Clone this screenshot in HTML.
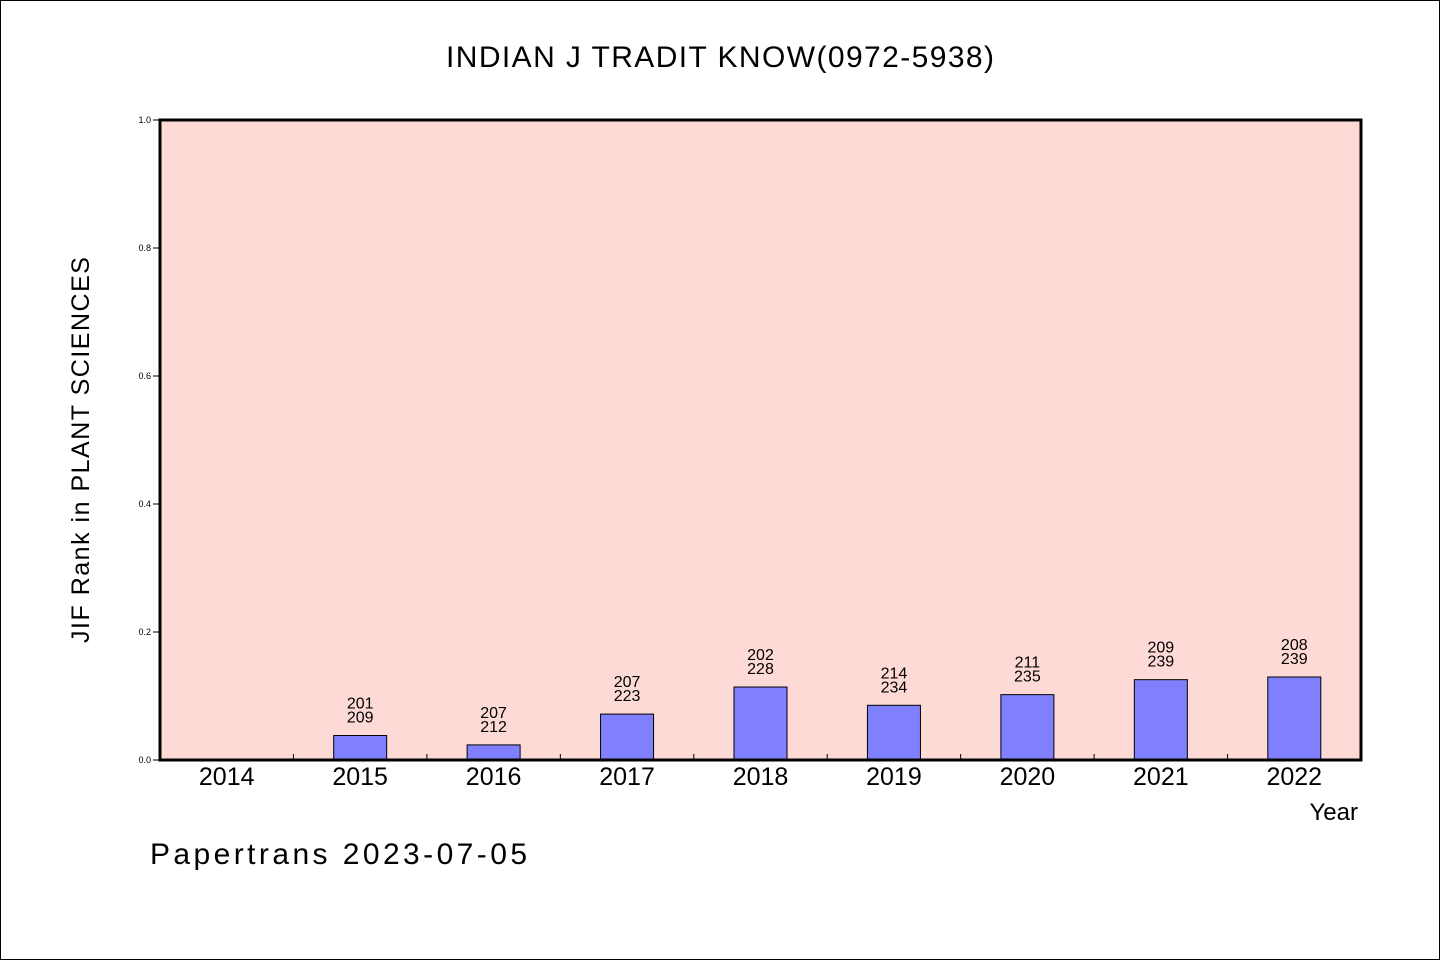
<!DOCTYPE html>
<html><head><meta charset="utf-8"><style>
html,body{margin:0;padding:0;background:#fff}
svg{display:block;font-family:"WenQuanYi Zen Hei","Liberation Sans",sans-serif}
</style></head><body>
<svg id="chart" width="1440" height="960">
<rect x="0.5" y="0.5" width="1439" height="959" fill="#fff" stroke="#000"/>
<text x="720" y="67" font-size="30" text-anchor="middle" textLength="548">INDIAN J TRADIT KNOW(0972-5938)</text>
<rect x="160" y="120" width="1201" height="640" fill="#fddad6"/>
<g id="marks"></g>
<rect x="160" y="120" width="1201" height="640" fill="none" stroke="#000" stroke-width="3"/>
<text transform="translate(89,450) rotate(-90)" font-size="25" text-anchor="middle" textLength="386">JIF Rank in PLANT SCIENCES</text>
<text x="1358" y="820" font-size="24" text-anchor="end">Year</text>
<text x="150" y="864" font-size="30" textLength="377">Papertrans 2023-07-05</text>
</svg>
<script>
const years = ["2014","2015","2016","2017","2018","2019","2020","2021","2022"];
const ranks = [null,201,207,207,202,214,211,209,208];
const totals = [null,209,212,223,228,234,235,239,239];
const yTicks = [0,0.2,0.4,0.6,0.8,1.0];
const tickLabels = ["0.0","0.2","0.4","0.6","0.8","1.0"];
const NS="http://www.w3.org/2000/svg";
const X0=160,X1=1361,Y0=760,Y1=120;
const band=(X1-X0)/years.length;
const xC=i=>X0+band*(i+0.5);
const yS=v=>Y0-(Y0-Y1)*v;
const g=document.getElementById('marks');
function mk(t,a){const e=document.createElementNS(NS,t);for(const k in a)e.setAttribute(k,a[k]);g.appendChild(e);return e;}
yTicks.forEach((v,i)=>{
  const l=mk('line',{x1:X0-7,x2:X0,y1:yS(v),y2:yS(v),stroke:'#000'});
  
  
  const t=mk('text',{x:X0-9,y:yS(v)+3,'font-size':9,'text-anchor':'end'});
  t.textContent=tickLabels[i];
  
  
});
for(let i=1;i<years.length;i++){
  const l=mk('line',{x1:X0+band*i,x2:X0+band*i,y1:Y0-6,y2:Y0,stroke:'#000'});
  
  
}
years.forEach((y,i)=>{
  const t=mk('text',{x:xC(i),y:785,'font-size':25,'text-anchor':'middle'});
  t.textContent=y;
  
  
  if(ranks[i]==null)return;
  const v=1-ranks[i]/totals[i];
  const b=mk('rect',{x:xC(i)-26.5,y:yS(v),width:53,height:Y0-yS(v),fill:'#8080ff',stroke:'#000','stroke-width':1});
  
  
  const t1=mk('text',{x:xC(i),y:yS(v)-27,'font-size':16,'text-anchor':'middle'});
  t1.textContent=ranks[i];
  
  
  const t2=mk('text',{x:xC(i),y:yS(v)-13,'font-size':16,'text-anchor':'middle'});
  t2.textContent=totals[i];
  
  
});
</script>
</body></html>
